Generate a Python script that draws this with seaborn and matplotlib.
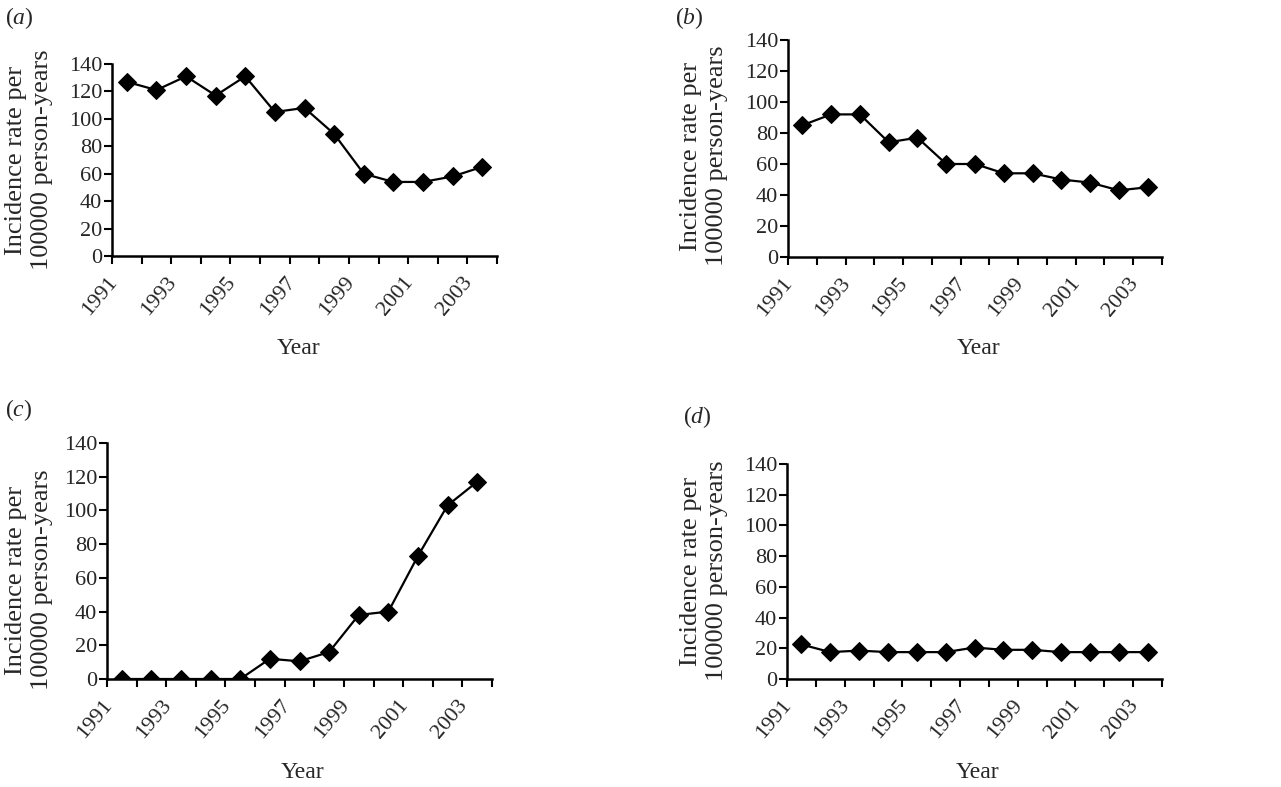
import matplotlib
matplotlib.use("Agg")
import matplotlib.pyplot as plt
import matplotlib.transforms as mtrans
import seaborn as sns
import pandas as pd
import numpy as np
from matplotlib.ticker import FixedLocator, NullFormatter, FixedFormatter

years = list(range(1991, 2004))
rate_a = [127, 121, 131, 117, 131, 105, 108, 89, 60, 54, 54, 58, 65]
rate_b = [85, 92, 92, 74, 77, 60, 60, 54, 54, 50, 48, 43, 45]
rate_c = [0, 0, 0, 0, 0, 12, 10.5, 16, 38, 40, 73, 103, 117]
rate_d = [22.5, 17.5, 18.5, 17.5, 17.5, 17.5, 20.5, 19, 19, 17.5, 17.5, 17.5, 17.5]
panel_labels = ["a", "b", "c", "d"]
y_ticks = [0, 20, 40, 60, 80, 100, 120, 140]
label_years = [1991, 1993, 1995, 1997, 1999, 2001, 2003]
ylabel_text = "Incidence rate per\n100000 person-years"
xlabel_text = "Year"

sns.set_theme(style="white")
plt.rcParams["font.family"] = ["Liberation Serif", "DejaVu Serif"]
plt.rcParams["mathtext.fontset"] = "custom"
plt.rcParams["mathtext.rm"] = "Liberation Serif"
plt.rcParams["mathtext.it"] = "Liberation Serif:italic"

W, H = 1281, 787
fig = plt.figure(figsize=(W / 100, H / 100), dpi=100)

def px_axes(l, r, t, b):
    return [l / W, 1 - b / H, (r - l) / W, (b - t) / H]

layout = [
    dict(rect=px_axes(112, 497, 64, 256), ylab=(29, 160), xlab=(298, 348), plab=(5, 18)),
    dict(rect=px_axes(788, 1162, 40, 257), ylab=(704, 156), xlab=(978, 348), plab=(675, 18)),
    dict(rect=px_axes(107, 492, 443, 679), ylab=(29, 580), xlab=(302, 772), plab=(5, 410)),
    dict(rect=px_axes(787, 1162, 464, 679), ylab=(704, 571), xlab=(977, 772), plab=(683, 417)),
]
series = [rate_a, rate_b, rate_c, rate_d]
FS = 16

for lab, vals, lay in zip(panel_labels, series, layout):
    ax = fig.add_axes(lay["rect"])
    df = pd.DataFrame({"Year": years, "Rate": vals})
    sns.lineplot(data=df, x="Year", y="Rate", ax=ax, color="black", linewidth=1.6,
                 marker="D", markersize=9.5, markeredgecolor="black",
                 markerfacecolor="black")
    ax.set_xlim(years[0] - 0.5, years[-1] + 0.5)
    ax.set_ylim(0, 140)
    ax.set_yticks(y_ticks)
    ax.set_yticklabels([str(v) for v in y_ticks], fontsize=FS)
    bounds = [y - 0.5 for y in years] + [years[-1] + 0.5]
    ax.xaxis.set_major_locator(FixedLocator(bounds))
    ax.xaxis.set_major_formatter(NullFormatter())
    ax.xaxis.set_minor_locator(FixedLocator(label_years))
    ax.xaxis.set_minor_formatter(FixedFormatter([str(y) for y in label_years]))
    ax.tick_params(axis="x", which="major", direction="out", length=6, width=1.5,
                   color="black", bottom=True)
    ax.tick_params(axis="x", which="minor", length=0, pad=12, labelsize=FS, bottom=True)
    ax.tick_params(axis="y", direction="out", length=6, width=1.5, color="black",
                   left=True, pad=1, labelsize=FS)
    shift = mtrans.ScaledTranslation(-20 / 100, 0, fig.dpi_scale_trans)
    for t in ax.xaxis.get_minorticklabels():
        t.set_rotation(50)
        t.set_ha("right")
        t.set_va("top")
        t.set_rotation_mode("anchor")
        t.set_transform(t.get_transform() + shift)
    sns.despine(ax=ax)
    for s in ["left", "bottom"]:
        ax.spines[s].set_linewidth(1.8)
        ax.spines[s].set_color("black")
    ax.set_xlabel("")
    ax.set_ylabel("")
    ax.set_facecolor("white")
    x, y = lay["ylab"]
    fig.text(x / W, 1 - y / H, ylabel_text, rotation=90, ha="center", va="center",
             fontsize=19, multialignment="center", linespacing=1.2)
    x, y = lay["xlab"]
    fig.text(x / W, 1 - y / H, xlabel_text, ha="center", va="center", fontsize=17)
    x, y = lay["plab"]
    fig.text(x / W, 1 - y / H, r"($\mathit{%s}$)" % lab, ha="left", va="center", fontsize=17)

fig.savefig("out.png", dpi=100, facecolor="white")
